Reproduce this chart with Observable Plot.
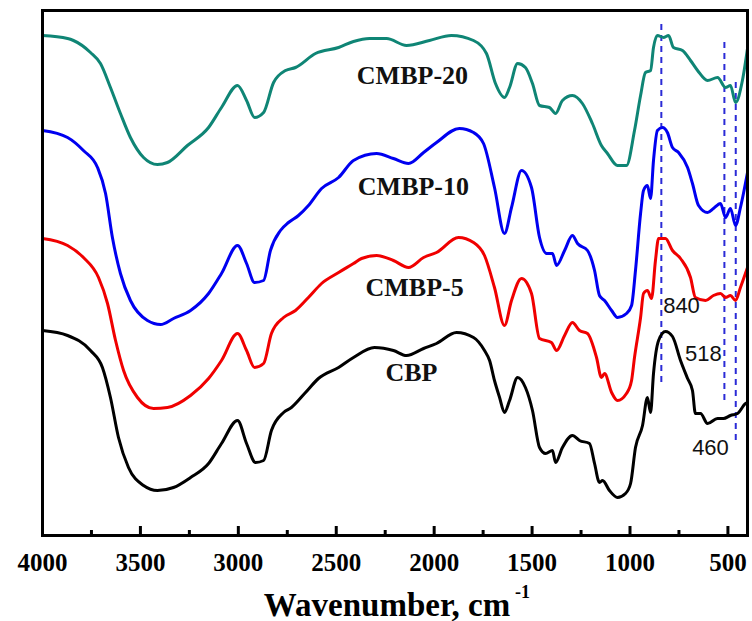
<!DOCTYPE html>
<html>
<head>
<meta charset="utf-8">
<script src="https://cdn.jsdelivr.net/npm/d3@7"></script>
<script src="https://cdn.jsdelivr.net/npm/@observablehq/plot@0.6"></script>
<style>
  html, body { margin: 0; padding: 0; background: #fff; }
  #chart svg { display: block; }
</style>
</head>
<body>
<div id="chart"></div>
<script>
// Series: [wavenumber (cm-1), transmittance (arbitrary, offset)]
const cmbp20 = [[4000,500],[3872,497],[3842,495],[3755,483],[3704,472],[3653,448],[3602,422],[3551,398],[3484,378],[3413,371],[3362,373],[3260,390],[3152,408],[3086,428],[3004,450],[2958,435],[2917,418],[2871,423],[2820,453],[2759,465],[2708,468],[2606,482],[2488,488],[2412,494],[2330,497],[2243,497],[2141,490],[2024,495],[1912,500],[1799,495],[1733,482],[1687,452],[1641,438],[1615,448],[1574,472],[1534,468],[1498,452],[1462,430],[1411,428],[1380,422],[1345,435],[1294,440],[1243,432],[1192,412],[1146,390],[1115,382],[1064,370],[1018,370],[977,405],[946,440],[921,463],[895,465],[880,488],[860,500],[829,498],[803,500],[778,488],[732,485],[691,475],[655,465],[604,455],[553,458],[512,448],[487,450],[461,433],[426,455],[400,487]];
const cmbp10 = [[4000,405],[3872,398],[3791,385],[3719,368],[3678,342],[3643,298],[3602,262],[3551,235],[3464,215],[3397,211],[3331,217],[3244,225],[3152,242],[3086,262],[3004,290],[2958,272],[2917,253],[2871,255],[2836,285],[2785,305],[2744,313],[2693,320],[2642,330],[2575,347],[2488,358],[2412,375],[2294,382],[2208,377],[2131,372],[2054,383],[1988,393],[1871,407],[1799,403],[1748,392],[1692,348],[1641,302],[1605,328],[1554,365],[1503,348],[1462,298],[1426,282],[1396,282],[1375,270],[1334,285],[1294,300],[1268,292],[1217,285],[1181,265],[1156,240],[1130,235],[1094,225],[1064,218],[1018,222],[992,230],[972,265],[946,322],[931,345],[911,350],[895,337],[880,375],[860,405],[834,408],[809,403],[783,388],[752,383],[706,368],[681,352],[650,330],[604,323],[574,327],[538,332],[512,318],[487,327],[461,310],[436,328],[400,363]];
const cmbp5 = [[4000,297],[3872,290],[3791,278],[3714,258],[3668,232],[3627,195],[3586,165],[3515,138],[3433,127],[3362,128],[3244,140],[3152,157],[3086,175],[3004,202],[2958,185],[2917,168],[2871,172],[2831,202],[2769,218],[2708,225],[2642,238],[2575,252],[2488,263],[2412,272],[2371,277],[2294,280],[2208,275],[2131,268],[2054,278],[1988,283],[1876,298],[1799,293],[1743,280],[1692,248],[1641,210],[1605,235],[1554,257],[1503,242],[1462,197],[1401,193],[1375,185],[1334,200],[1294,213],[1258,205],[1217,202],[1171,178],[1146,158],[1130,162],[1094,143],[1064,135],[1018,142],[992,155],[977,178],[946,218],[931,242],[911,245],[890,237],[870,275],[854,297],[819,297],[783,285],[742,277],[691,258],[666,238],[614,235],[574,240],[538,242],[512,238],[487,240],[461,235],[436,248],[400,268]];
const cbp = [[4000,205],[3872,200],[3755,185],[3694,168],[3653,138],[3612,98],[3561,68],[3484,50],[3413,45],[3331,48],[3244,58],[3152,72],[3086,92],[3004,115],[2958,92],[2912,73],[2871,75],[2831,105],[2769,123],[2729,128],[2657,143],[2591,157],[2488,168],[2412,178],[2305,188],[2208,185],[2141,180],[2054,187],[1988,192],[1886,203],[1799,198],[1743,185],[1717,175],[1692,155],[1666,138],[1641,123],[1615,135],[1574,158],[1534,148],[1498,125],[1462,88],[1431,82],[1396,85],[1380,73],[1345,88],[1294,100],[1258,95],[1207,92],[1181,72],[1156,53],[1140,55],[1105,45],[1064,38],[1023,42],[997,52],[972,88],[936,110],[911,138],[895,123],[880,162],[854,195],[819,204],[783,199],[742,175],[706,157],[681,145],[666,122],[640,122],[604,112],[553,117],[523,117],[487,120],[451,122],[410,132],[400,133]];

const seriesNames = ["CMBP-20", "CMBP-10", "CMBP-5", "CBP"];
const seriesColors = ["#0f8575", "#0000f0", "#f00000", "#000000"];
const seriesData = [cmbp20, cmbp10, cmbp5, cbp];

// Series label anchors [wavenumber, value]
const labelWn = [2111, 2106, 2100, 2116];
const labelY = [460, 349, 248, 163];

// Dashed marker lines
const markWn = [840, 518, 460];
const markTop = [515, 498, 455];
const markBottom = [153, 135, 95];
// Marker annotations
const noteText = ["840", "518", "460"];
const noteWn = [737, 625, 589];
const noteY = [230, 182, 88];

const majorTicks = [4000, 3500, 3000, 2500, 2000, 1500, 1000, 500];
const minorTicks = [3750, 3250, 2750, 2250, 1750, 1250, 750];

const rows = [];
seriesData.forEach((s, i) => s.forEach(([wn, t]) => rows.push({series: seriesNames[i], wn, t})));
const labels = seriesNames.map((name, i) => ({name, wn: labelWn[i], t: labelY[i]}));
const marks = markWn.map((wn, i) => ({wn, top: markTop[i], bottom: markBottom[i]}));
const notes = noteText.map((text, i) => ({text, wn: noteWn[i], t: noteY[i]}));

const serif = "'Liberation Serif', 'Times New Roman', serif";
const sans = "'Liberation Sans', Arial, sans-serif";

const chart = Plot.plot({
  width: 752,
  height: 621,
  marginLeft: 42,
  marginRight: 5,
  marginTop: 10,
  marginBottom: 86,
  style: {fontFamily: serif, background: "#fff"},
  x: {domain: [4000, 400], axis: null, label: null},
  y: {domain: [0, 525], axis: null, label: null},
  color: {domain: seriesNames, range: seriesColors},
  marks: [
    Plot.ruleX(marks, {x: "wn", y1: "bottom", y2: "top", stroke: "#2b2bd6", strokeWidth: 2, strokeDasharray: "6,5"}),
    Plot.line(rows, {x: "wn", y: "t", z: "series", stroke: "series", strokeWidth: 3, curve: "monotone-x"}),
    Plot.text(labels, {x: "wn", y: "t", text: "name", fontSize: 26, fontWeight: "bold", fill: "#111", textAnchor: "middle", lineAnchor: "middle"}),
    Plot.text(notes, {x: "wn", y: "t", text: "text", fontSize: 22, fontFamily: sans, fill: "#111", textAnchor: "middle", lineAnchor: "middle"}),
    Plot.frame({stroke: "#000", strokeWidth: 3}),
    Plot.axisX(majorTicks, {anchor: "bottom", label: null, tickSize: -9, tickPadding: 27, strokeWidth: 3, fontSize: 25, fontWeight: "bold", fill: "#000", tickFormat: d => String(d)}),
    Plot.axisX(minorTicks, {anchor: "bottom", label: null, tickSize: -5, strokeWidth: 3, tickFormat: () => ""}),
    Plot.text(["Wavenumber, cm"], {frameAnchor: "bottom", text: d => d, dx: -8, dy: 80, fontSize: 33, fontWeight: "bold", fill: "#000", textAnchor: "middle", lineAnchor: "bottom"}),
    Plot.text(["-1"], {frameAnchor: "bottom", text: d => d, dx: 120, dy: 62, fontSize: 18, fontWeight: "bold", fill: "#000", textAnchor: "start", lineAnchor: "bottom"})
  ]
});
document.getElementById("chart").appendChild(chart);
</script>
</body>
</html>
